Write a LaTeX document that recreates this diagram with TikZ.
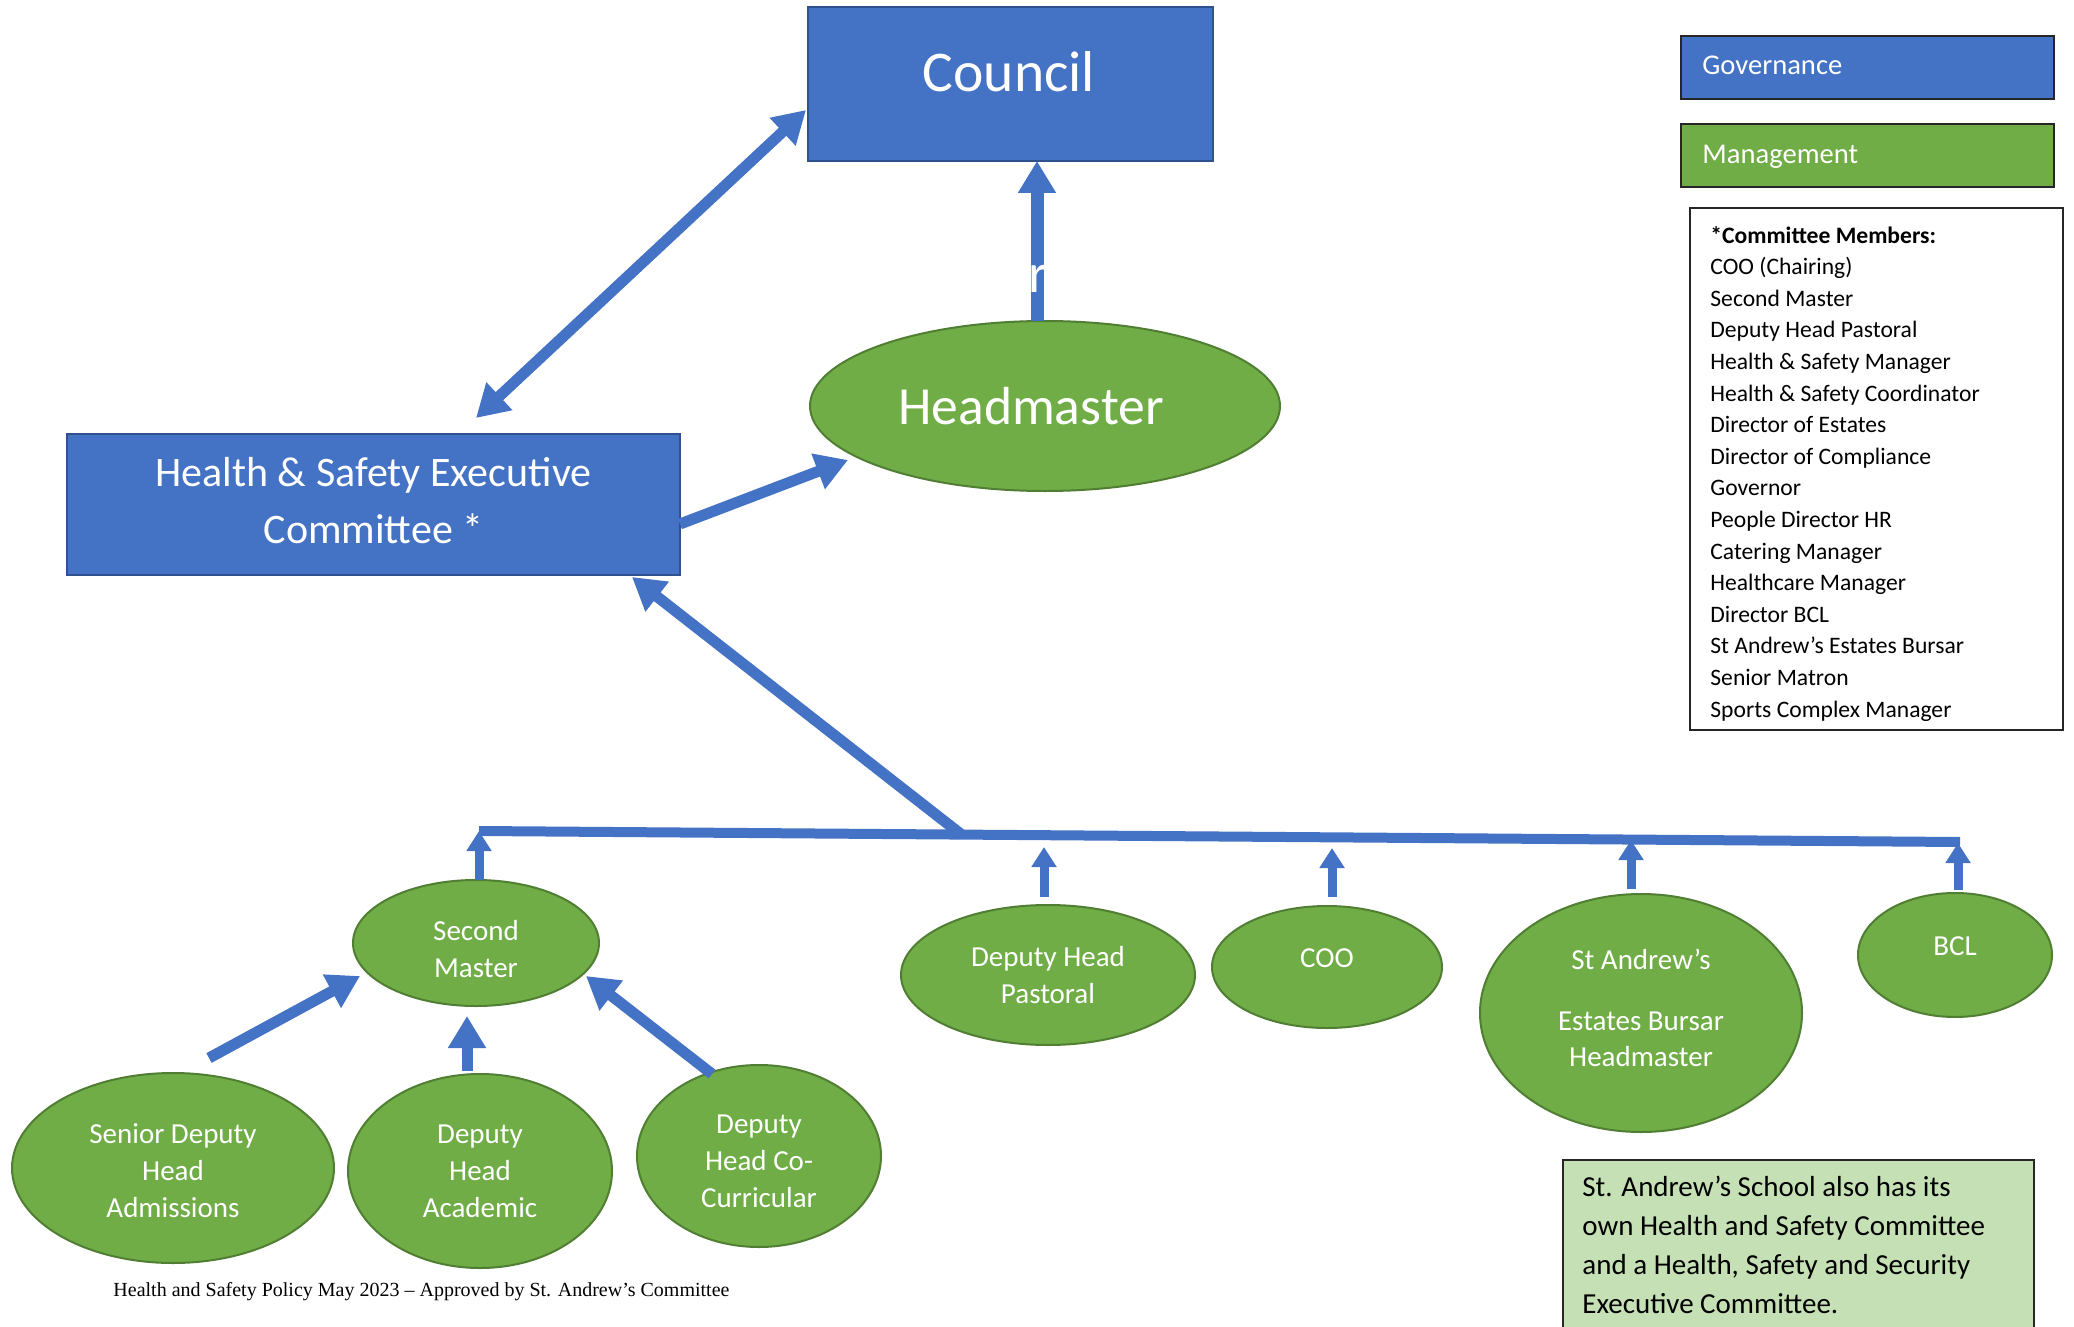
\documentclass[tikz,border=0pt]{standalone}
\usepackage{fontspec}
\setmainfont{Carlito}
\newfontfamily\footserif{Liberation Serif}
\usetikzlibrary{shapes.geometric,arrows.meta}
\definecolor{govblue}{HTML}{4472C4}
\definecolor{govedge}{HTML}{2F528F}
\definecolor{mgmtgreen}{HTML}{70AD47}
\definecolor{mgmtedge}{HTML}{507E32}
\definecolor{notegreen}{HTML}{C5E0B4}
\definecolor{linkblue}{HTML}{4472C4}
\begin{document}
\begin{tikzpicture}[x=0.5pt,y=-0.5pt,
  govbox/.style={rectangle,draw=govedge,line width=1pt,fill=govblue,inner sep=0},
  legbox/.style={rectangle,draw=black!85,line width=1pt,inner sep=0,minimum width=186.5pt,minimum height=31.5pt},
  mgmtell/.style={ellipse,draw=mgmtedge,line width=1pt,fill=mgmtgreen,text=white,inner sep=0,align=center,font=\fontsize{14.5}{18.5}\selectfont},
  whitetxt/.style={text=white,inner sep=0},
  elltxt/.style={text=white,inner sep=0,font=\fontsize{14.5}{18.5}\selectfont,text height=7pt,text depth=2pt},
  listline/.style={anchor=west,inner sep=0,text height=7pt,text depth=2pt,font=\fontsize{11.8}{15}\selectfont},
  noteline/.style={anchor=west,inner sep=0,text height=7pt,text depth=2pt,font=\fontsize{14.5}{18}\selectfont},
  bigarrow/.style={draw=linkblue,line width=5.5pt,-{Triangle[length=16pt,width=18pt]}},
  dblarrow/.style={draw=linkblue,line width=5.5pt,{Triangle[length=16pt,width=18pt]}-{Triangle[length=16pt,width=18pt]}},
  smallarrow/.style={draw=linkblue,line width=4.5pt,-{Triangle[length=10pt,width=12pt]}},
  barline/.style={draw=linkblue,line width=5pt}
]
\useasboundingbox (0,0) rectangle (2074,1327);

% governance boxes
\node[govbox,minimum width=202.5pt,minimum height=77pt] (council) at (1010.5,84) {};
\node[whitetxt,font=\fontsize{28.8}{34}\selectfont,text height=6.5pt,text depth=0pt] (councilt) at (1009,85) {Council};
\node[govbox,minimum width=306.5pt,minimum height=70.5pt] (hsec) at (373.5,504.5) {};
\node[whitetxt,align=center,font=\fontsize{21}{28.5}\selectfont] (hsect) at (373.5,500.5) {Health \& Safety Executive\\Committee *};

% headmaster
\node[mgmtell,minimum width=235pt,minimum height=85pt] (hm) at (1045,406) {};
\node[whitetxt,font=\fontsize{26.8}{30}\selectfont] (hmt) at (1031,406) {Headmaster};

% legend
\node[legbox,fill=govblue] (gov) at (1867.5,67.5) {};
\node[whitetxt,anchor=west,font=\fontsize{14.3}{17}\selectfont,text height=7pt,text depth=2pt] (govt) at (1702,70) {Governance};
\node[legbox,fill=mgmtgreen] (mgmt) at (1867.5,156) {};
\node[whitetxt,anchor=west,font=\fontsize{14.3}{17}\selectfont,text height=7pt,text depth=2pt] (mgmtt) at (1702,158) {Management};

% committee members list
\node[rectangle,draw=black!85,line width=0.8pt,minimum width=186.5pt,minimum height=261pt,inner sep=0] (members) at (1876.5,469) {};
\node[listline,font=\fontsize{11.8}{15}\selectfont\bfseries] (cm0) at (1710,238) {*Committee Members:};
\foreach \t [count=\i] in {COO (Chairing),Second Master,Deputy Head Pastoral,Health \& Safety Manager,Health \& Safety Coordinator,Director of Estates,Director of Compliance,Governor,People Director HR,Catering Manager,Healthcare Manager,Director BCL,St Andrew’s Estates Bursar,Senior Matron,Sports Complex Manager}
  \node[listline] (cm\i) at (1710,{238+31.6*\i}) {\t};

% bottom ellipses
\node[mgmtell,minimum width=123pt,minimum height=63pt] (sm) at (476,943) {};
\node[whitetxt,align=center,font=\fontsize{14.5}{18.5}\selectfont] (smt) at (476,949) {Second\\Master};
\node[mgmtell,minimum width=147pt,minimum height=70pt] (dhp) at (1048,975) {Deputy Head\\Pastoral};
\node[mgmtell,minimum width=115pt,minimum height=61pt] (coo) at (1327,967) {};
\node[whitetxt,font=\fontsize{14.5}{18.5}\selectfont] (coot) at (1327,958) {COO};
\node[mgmtell,minimum width=161pt,minimum height=119pt] (sab) at (1641,1013) {};
\node[elltxt] (sabt1) at (1641,964) {St Andrew’s};
\node[elltxt] (sabt2) at (1641,1025) {Estates Bursar};
\node[elltxt] (sabt3) at (1641,1061) {Headmaster};
\node[mgmtell,minimum width=97pt,minimum height=62pt] (bcl) at (1955,955) {};
\node[whitetxt,font=\fontsize{14.5}{18.5}\selectfont] (bclt) at (1955,946) {BCL};
\node[mgmtell,minimum width=161pt,minimum height=95pt] (sda) at (173,1168) {};
\node[whitetxt,align=center,font=\fontsize{14.5}{18.5}\selectfont] (sdat) at (173,1171) {Senior Deputy\\Head\\Admissions};
\node[mgmtell,minimum width=132pt,minimum height=97pt] (dha) at (480,1171) {Deputy\\Head\\Academic};
\node[mgmtell,minimum width=122pt,minimum height=91pt] (dhc) at (759,1156) {};
\node[whitetxt,align=center,font=\fontsize{14.5}{18.5}\selectfont] (dhct) at (759,1161) {Deputy\\Head Co-\\Curricular};

% note box
\node[rectangle,draw=black!85,line width=0.8pt,fill=notegreen,minimum width=235.5pt,minimum height=100pt,inner sep=0,anchor=north west] (note) at (1562,1159) {};
\foreach \t [count=\i from 0] in {St. Andrew’s School also has its,own Health and Safety Committee,{and a Health, Safety and Security},Executive Committee.}
  \node[noteline] (nl\i) at (1582,{1191+39*\i}) {\t};

% footer
\node[inner sep=0,font=\footserif\fontsize{10}{12}\selectfont,text height=0.68em,text depth=0.2em] (foot) at (421.5,1292) {Health and Safety Policy May 2023 – Approved by St. Andrew’s Committee};

% connector coordinates
\coordinate (hmtop) at (1037,321);
\coordinate (councilbot) at (1037,161);
\coordinate (hsectop) at (476,418);
\coordinate (councilleft) at (806,110);
\coordinate (hsecright) at (680,524);
\coordinate (hmleft) at (848,460);
\coordinate (barL) at (479,831);
\coordinate (barR) at (1960,842);
\coordinate (barM) at (962,835);
\coordinate (hsecbot) at (632,577);
\coordinate (smtop) at (479,880);
\coordinate (dhptop) at (1044,897);
\coordinate (dhpbar) at (1044,847);
\coordinate (cootop) at (1332,897);
\coordinate (coobar) at (1332,848);
\coordinate (sabtop) at (1631,889);
\coordinate (sabbar) at (1631,840);
\coordinate (bcltop) at (1958,890);
\coordinate (bclbar) at (1958,843);
\coordinate (sdatop) at (209,1058);
\coordinate (smleft) at (360,976);
\coordinate (dhatop) at (467,1071);
\coordinate (smbot) at (467,1016);
\coordinate (dhctop) at (712,1074);
\coordinate (smright) at (586,976);

% connectors
\draw[bigarrow,line width=6.5pt,-{Triangle[length=16pt,width=18pt]}] (hmtop) -- (councilbot);
\node[whitetxt,font=\fontsize{28}{34}\selectfont,text height=4.7pt,text depth=0pt] (rfrag) at (1038,288) {r};
\draw[dblarrow] (hsectop) -- (councilleft);
\draw[bigarrow] (hsecright) -- (hmleft);
\draw[barline] (barL) -- (barR);
\draw[bigarrow] (barM) -- (hsecbot);
\draw[smallarrow] (smtop) -- (barL);
\draw[smallarrow] (dhptop) -- (dhpbar);
\draw[smallarrow] (cootop) -- (coobar);
\draw[smallarrow] (sabtop) -- (sabbar);
\draw[smallarrow] (bcltop) -- (bclbar);
\draw[bigarrow] (sdatop) -- (smleft);
\draw[bigarrow] (dhatop) -- (smbot);
\draw[bigarrow] (dhctop) -- (smright);
\end{tikzpicture}
\end{document}
